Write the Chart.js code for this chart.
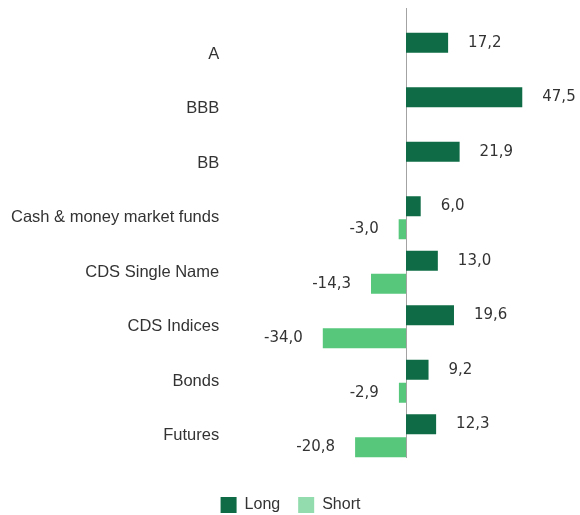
<!DOCTYPE html>
<html>
<head>
<meta charset="utf-8">
<script src="https://cdn.jsdelivr.net/npm/chart.js@4"></script>
<style>
  html, body { margin: 0; padding: 0; background: #fff; }
  #wrap { width: 580px; height: 515px; }
</style>
</head>
<body>
<div id="wrap"><canvas id="chart"></canvas></div>
<script>
const categories = ['A', 'BBB', 'BB', 'Cash & money market funds', 'CDS Single Name', 'CDS Indices', 'Bonds', 'Futures'];
const longValues = [17.2, 47.5, 21.9, 6.0, 13.0, 19.6, 9.2, 12.3];
const shortValues = [null, null, null, -3.0, -14.3, -34.0, -2.9, -20.8];

const LONG_COLOR = '#0e6b45';
const SHORT_COLOR = '#56c77b';
const SHORT_LEGEND = '#92dcad';

const fmt = v => v.toFixed(1).replace('.', ',');

// zero line, runs a bit above the bars like the original
const zeroLine = {
  id: 'zeroLine',
  beforeDatasetsDraw(chart) {
    const { ctx, chartArea, scales } = chart;
    const x = Math.round(scales.x.getPixelForValue(0)) + 0.5;
    ctx.save();
    ctx.strokeStyle = '#a3a3a3';
    ctx.lineWidth = 1;
    ctx.beginPath();
    ctx.moveTo(x, chartArea.top - 19);
    ctx.lineTo(x, chartArea.bottom - 5);
    ctx.stroke();
    ctx.restore();
  }
};

// nudge the legend a bit lower and to the right
const legendShift = {
  id: 'legendShift',
  afterLayout(chart) {
    const lg = chart.legend;
    lg.top += 16;
    lg.bottom += 16;
    lg.left += 4;
    lg.right += 4;
  }
};

const valueLabels = {
  id: 'valueLabels',
  afterDatasetsDraw(chart) {
    const ctx = chart.ctx;
    ctx.save();
    ctx.font = '15px "DejaVu Sans"';
    ctx.fillStyle = '#333';
    ctx.textBaseline = 'middle';
    chart.data.datasets.forEach((ds, i) => {
      chart.getDatasetMeta(i).data.forEach((bar, j) => {
        const v = ds.data[j];
        if (v === null) return;
        if (v >= 0) {
          ctx.textAlign = 'left';
          ctx.fillText(fmt(v), bar.x + 20, bar.y);
        } else {
          ctx.textAlign = 'right';
          ctx.fillText(fmt(v), bar.x - 20, bar.y);
        }
      });
    });
    ctx.restore();
  }
};

new Chart(document.getElementById('chart'), {
  type: 'bar',
  data: {
    labels: categories,
    datasets: [{
      label: 'Long',
      data: longValues,
      backgroundColor: LONG_COLOR,
      barPercentage: 0.87,
      categoryPercentage: 0.84,
    }, {
      label: 'Short',
      data: shortValues,
      backgroundColor: SHORT_COLOR,
      barPercentage: 0.87,
      categoryPercentage: 0.84,
    }]
  },
  options: {
    indexAxis: 'y',
    responsive: true,
    maintainAspectRatio: false,
    animation: false,
    layout: {
      padding: { top: 27, left: 3, right: 10, bottom: 8 }
    },
    scales: {
      x: {
        display: false,
        min: -69.8,
        max: 67,
      },
      y: {
        grid: { display: false },
        border: { display: false },
        ticks: {
          color: '#333',
          padding: 8,
          font: { family: '"Liberation Sans", Arial', size: 16.5 },
        },
      },
    },
    plugins: {
      legend: {
        position: 'bottom',
        labels: {
          color: '#333',
          boxWidth: 16,
          boxHeight: 16,
          padding: 18,
          font: { family: '"Liberation Sans", Arial', size: 16 },
          generateLabels(chart) {
            const items = Chart.defaults.plugins.legend.labels.generateLabels(chart);
            items.forEach(it => {
              it.fillStyle = it.text === 'Short' ? SHORT_LEGEND : LONG_COLOR;
              it.strokeStyle = it.fillStyle;
              it.lineWidth = 0;
            });
            return items;
          }
        },
      },
      tooltip: { enabled: false },
    },
  },
  plugins: [zeroLine, valueLabels, legendShift],
});
</script>
</body>
</html>
